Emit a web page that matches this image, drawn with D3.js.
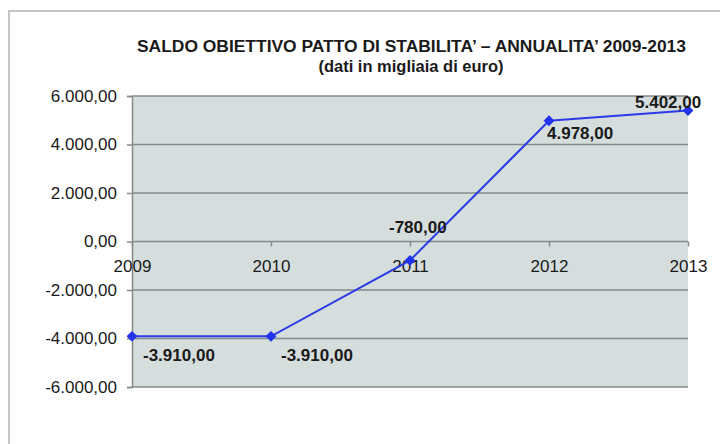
<!DOCTYPE html>
<html>
<head>
<meta charset="utf-8">
<script src="https://cdn.jsdelivr.net/npm/d3@7"></script>
<style>
  body { margin: 0; background: #fff; }
  text { font-family: "Liberation Sans", Arial, sans-serif; fill: #1a1a1a; }
</style>
</head>
<body>
<script>
// data
var years = ["2009", "2010", "2011", "2012", "2013"];
var saldo = [-3910, -3910, -780, 4978, 5402];
var yTicks = [-6000, -4000, -2000, 0, 2000, 4000, 6000];

// where each value label sits relative to its point (dx left edge, dy baseline)
var labelOffset = [[11, 25], [10, 25], [-21, -27], [-2, 18], [-53, -3]];

var W = 720, H = 444;
var plot = {left: 132, right: 688, top: 96, bottom: 387};

var it = d3.formatLocale({decimal: ",", thousands: ".", grouping: [3], currency: ["€", ""], minus: "-"});
var fmt = it.format(",.2f");

var svg = d3.select("body").append("svg")
    .attr("width", W)
    .attr("height", H);

// outer frame
svg.append("rect")
    .attr("x", 9).attr("y", 11)
    .attr("width", W).attr("height", H)
    .attr("fill", "none")
    .attr("stroke", "#c6c6c6")
    .attr("stroke-width", 2);

var x = d3.scalePoint().domain(years).range([plot.left, plot.right]);
var y = d3.scaleLinear().domain([-6000, 6000]).range([plot.bottom, plot.top]);

// plot area
svg.append("rect")
    .attr("x", plot.left).attr("y", plot.top)
    .attr("width", plot.right - plot.left)
    .attr("height", plot.bottom - plot.top)
    .attr("fill", "#d5dddd");

// grid lines
svg.append("g").selectAll("line")
    .data(yTicks)
    .enter().append("line")
    .attr("x1", plot.left).attr("x2", plot.right)
    .attr("y1", function(d) { return y(d); })
    .attr("y2", function(d) { return y(d); })
    .attr("stroke", "#858a8a")
    .attr("stroke-width", 1.5);

// y axis
var yAxis = d3.axisLeft(y)
    .tickValues(yTicks)
    .tickSize(5)
    .tickPadding(10)
    .tickFormat(fmt);
var gy = svg.append("g")
    .attr("transform", "translate(" + plot.left + ",0)")
    .call(yAxis);
gy.select(".domain").attr("stroke", "#858a8a").attr("stroke-width", 1.5);
gy.selectAll(".tick line").attr("stroke", "#858a8a").attr("stroke-width", 1.5);
gy.selectAll(".tick text")
    .style("font-size", "17px")
    .attr("fill", "#1a1a1a");

// x axis on the zero line
var xAxis = d3.axisBottom(x).tickSize(5).tickPadding(13);
var gx = svg.append("g")
    .attr("transform", "translate(0," + y(0) + ")")
    .call(xAxis);
gx.select(".domain").remove();
gx.selectAll(".tick line").attr("stroke", "#858a8a").attr("stroke-width", 1.5);
gx.selectAll(".tick text")
    .style("font-size", "17px")
    .attr("fill", "#1a1a1a");

// line + markers
var pts = years.map(function(d, i) { return {year: d, v: saldo[i]}; });

svg.append("path")
    .datum(pts)
    .attr("fill", "none")
    .attr("stroke", "#2b3ce6")
    .attr("stroke-width", 2)
    .attr("d", d3.line()
        .x(function(d) { return x(d.year); })
        .y(function(d) { return y(d.v); }));

svg.selectAll(".marker")
    .data(pts)
    .enter().append("path")
    .attr("class", "marker")
    .attr("transform", function(d) { return "translate(" + x(d.year) + "," + y(d.v) + ")"; })
    .attr("d", d3.symbol().type(d3.symbolDiamond2).size(75))
    .attr("fill", "#2233ee");

svg.selectAll(".val")
    .data(pts)
    .enter().append("text")
    .attr("class", "val")
    .attr("x", function(d, i) { return x(d.year) + labelOffset[i][0]; })
    .attr("y", function(d, i) { return y(d.v) + labelOffset[i][1]; })
    .style("font-size", "17px")
    .style("font-weight", "bold")
    .text(function(d) { return fmt(d.v); });

// titles
svg.append("text")
    .attr("x", 137).attr("y", 52)
    .attr("textLength", 549)
    .attr("lengthAdjust", "spacingAndGlyphs")
    .style("font-size", "16px")
    .style("font-weight", "bold")
    .text("SALDO OBIETTIVO PATTO DI STABILITA’ – ANNUALITA’ 2009-2013");

svg.append("text")
    .attr("x", 411).attr("y", 72)
    .attr("text-anchor", "middle")
    .style("font-size", "16.5px")
    .style("font-weight", "bold")
    .text("(dati in migliaia di euro)");
</script>
</body>
</html>
